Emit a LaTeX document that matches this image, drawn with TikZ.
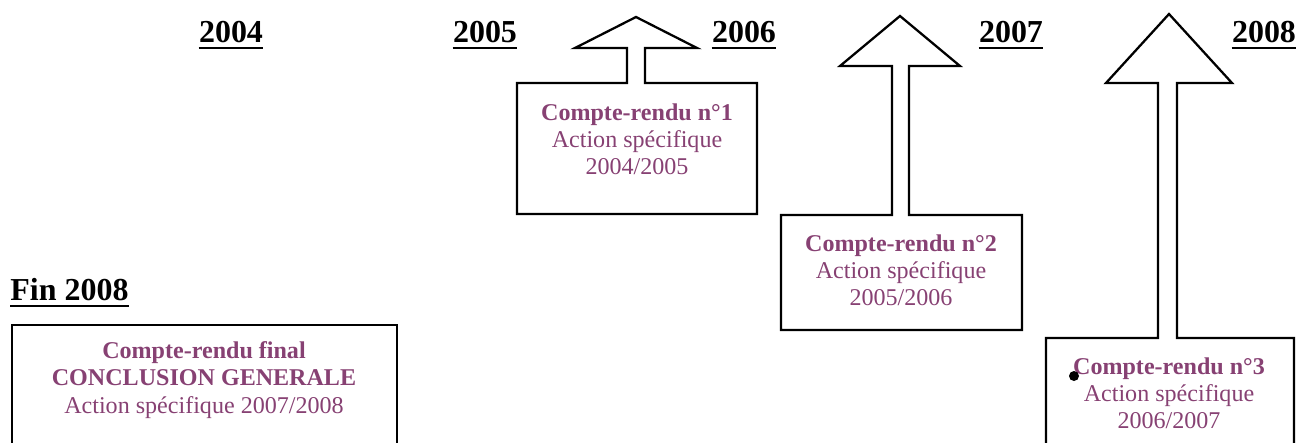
\documentclass[tikz,border=0pt]{standalone}
\usepackage{fontspec}
\setmainfont{Liberation Serif}
\usetikzlibrary{positioning}
\definecolor{plum}{RGB}{135,65,115}
\tikzset{
    year/.style={font=\fontsize{18.2}{20}\selectfont\bfseries, inner sep=0pt},
    crtext/.style={font=\fontsize{13.7}{15.6}\selectfont, text=plum, align=center, inner sep=0pt, anchor=north},
    outline/.style={draw=black, line width=1.3pt, line join=miter}
}

\begin{document}
\begin{tikzpicture}[x=0.02cm,y=-0.02cm]
    \useasboundingbox (0,0) rectangle (1296,443);

    %years along the top, underlined
    \foreach \yr/\xc in {2004/231,2005/485,2006/744,2007/1011,2008/1264}{
        \node[year, anchor=base] (y\yr) at (\xc,42) {\yr};
        \draw[line width=1.4pt] ([yshift=-3.5pt]y\yr.base west) -- ([yshift=-3.5pt]y\yr.base east);
    }
    \node[year, anchor=base west] (fin) at (10,300) {Fin 2008};
    \draw[line width=1.4pt] ([yshift=-3.5pt]fin.base west) -- ([yshift=-3.5pt]fin.base east);

    %boxes, each one opening into its block arrow
    \draw[outline] (517,83) -- (627,83) -- (627,48) -- (575,48) -- (636,17) -- (697,48)
        -- (645,48) -- (645,83) -- (757,83) -- (757,214) -- (517,214) -- cycle;
    \draw[outline] (781,215) -- (892,215) -- (892,66) -- (840,66) -- (900,16) -- (960,66)
        -- (909,66) -- (909,215) -- (1022,215) -- (1022,330) -- (781,330) -- cycle;
    \draw[outline] (1046,470) -- (1046,338) -- (1158,338) -- (1158,83) -- (1106,83) -- (1169,14)
        -- (1232,83) -- (1177,83) -- (1177,338) -- (1294,338) -- (1294,470);
    \draw[outline] (12,470) -- (12,325) -- (397,325) -- (397,470);

    %texts
    \node[crtext] (cr1) at (637,103) {\textbf{Compte-rendu n°1}\\Action spécifique\\2004/2005};
    \node[crtext] (cr2) at (901,234) {\textbf{Compte-rendu n°2}\\Action spécifique\\2005/2006};
    \node[crtext] (cr3) at (1169,357) {\textbf{Compte-rendu n°3}\\Action spécifique\\2006/2007};
    \node[crtext] (crfinal) at (204,341) {\textbf{Compte-rendu final}\\\textbf{CONCLUSION GENERALE}\\Action spécifique 2007/2008};

    \fill (1074,376) circle[radius=0.1cm];
\end{tikzpicture}
\end{document}
